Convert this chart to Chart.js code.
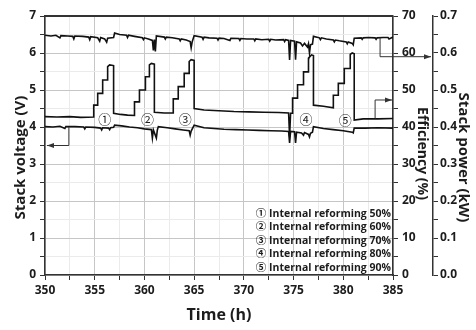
<!DOCTYPE html>
<html>
<head>
<meta charset="utf-8">
<script src="https://cdn.jsdelivr.net/npm/chart.js@4.4.0/dist/chart.umd.min.js"></script>
<style>
  html, body { margin: 0; padding: 0; background: #fff; }
  #wrap { width: 476px; height: 330px; }
</style>
</head>
<body>
<div id="wrap"><canvas id="myChart" width="476" height="330"></canvas></div>
<script>
// stack power (kW), top trace
var powerTime = [350.0, 350.6, 351.1, 351.5, 351.6, 352.3, 352.8, 352.9, 353.0, 353.8, 354.4, 354.5, 354.6, 355.3, 355.5, 355.6, 356.0, 356.2, 356.3, 356.9,
  357.0, 357.5, 358.2, 358.3, 358.4, 359.0, 359.8, 359.9, 360.0, 360.4, 360.8, 360.9, 361.0, 361.1, 361.2, 362.0, 362.1, 362.2, 362.8, 363.5, 363.6, 363.7, 364.2, 364.6, 364.7, 364.8,
  365.0, 365.8, 365.9, 366.0, 366.5, 367.3, 367.4, 367.5, 368.0, 368.6, 368.7, 369.5, 369.6, 369.7, 370.3, 371.0, 371.1, 371.2, 371.8, 372.5, 372.6, 372.7, 373.2, 374.0, 374.1, 374.2, 374.5, 374.6, 374.7,
  375.1, 375.2, 375.3, 375.7, 375.9, 376.1, 376.4, 376.5, 376.6, 376.7, 376.9,
  377.0, 377.6, 377.7, 377.8, 378.3, 379.0, 379.1, 379.2, 379.6, 380.3, 380.4, 380.5, 380.9, 381.0, 381.1, 381.8, 381.9, 382.0, 382.5, 383.2, 383.3, 383.4, 384.0, 384.5, 384.6, 385.0];
var powerKW = [0.648, 0.646, 0.648, 0.641, 0.647, 0.646, 0.645, 0.638, 0.646, 0.645, 0.643, 0.636, 0.644, 0.641, 0.632, 0.642, 0.638, 0.629, 0.640, 0.642,
  0.654, 0.650, 0.648, 0.642, 0.648, 0.645, 0.641, 0.636, 0.641, 0.638, 0.634, 0.607, 0.636, 0.604, 0.646, 0.643, 0.638, 0.643, 0.641, 0.638, 0.633, 0.638, 0.635, 0.631, 0.614, 0.630,
  0.647, 0.643, 0.637, 0.643, 0.641, 0.640, 0.635, 0.640, 0.639, 0.634, 0.640, 0.639, 0.634, 0.639, 0.638, 0.638, 0.633, 0.638, 0.636, 0.637, 0.632, 0.637, 0.635, 0.636, 0.631, 0.636, 0.634, 0.581, 0.634,
  0.632, 0.582, 0.630, 0.627, 0.619, 0.626, 0.616, 0.625, 0.600, 0.622, 0.624,
  0.645, 0.641, 0.636, 0.641, 0.638, 0.635, 0.630, 0.635, 0.633, 0.630, 0.625, 0.630, 0.626, 0.622, 0.640, 0.641, 0.637, 0.641, 0.642, 0.641, 0.637, 0.641, 0.642, 0.642, 0.638, 0.643];

// efficiency (%), stepped trace
var effTime = [350.0, 351.2, 352.5, 353.6, 354.9, 354.9, 355.3, 355.3, 355.8, 355.8, 356.3, 356.3, 356.5, 356.9, 356.9, 357.6, 358.3, 359.0,
  359.0, 359.5, 359.5, 360.1, 360.1, 360.5, 360.5, 360.7, 361.0, 361.0, 362.0, 362.9,
  362.9, 363.4, 363.4, 364.0, 364.0, 364.5, 364.5, 364.7, 365.0, 365.0, 366.0, 367.5, 369.0, 370.5, 372.0, 373.5, 374.5, 374.6, 374.7, 374.9,
  374.9, 375.4, 375.4, 376.0, 376.0, 376.5, 376.5, 376.8, 377.0, 377.0, 378.0, 379.0,
  379.0, 379.5, 379.5, 380.1, 380.1, 380.7, 380.7, 380.9, 381.1, 381.1, 382.0, 383.5, 385.0];
var effPct = [42.8, 42.7, 42.8, 42.6, 42.7, 45.9, 45.9, 49.1, 49.1, 52.7, 52.7, 56.3, 56.8, 56.6, 43.7, 43.4, 43.2, 43.1,
  46.8, 46.8, 50.0, 50.0, 53.6, 53.6, 56.8, 57.2, 57.0, 44.0, 43.8, 43.8,
  47.6, 47.6, 50.9, 50.9, 54.5, 54.5, 57.7, 58.2, 58.0, 45.0, 44.6, 44.4, 44.2, 44.1, 44.0, 43.9, 43.8, 37.5, 43.7, 43.7,
  47.8, 47.8, 51.4, 51.4, 54.9, 54.9, 58.6, 59.5, 59.3, 45.9, 45.6, 45.2,
  48.6, 48.6, 51.8, 51.8, 55.8, 55.8, 59.6, 60.0, 59.8, 41.9, 42.2, 42.2, 42.3];

// stack voltage (V), bottom trace
var voltTime = [350.0, 350.8, 351.5, 352.0, 352.1, 353.0, 353.9, 354.0, 354.1, 355.0, 355.6, 355.7, 355.8, 356.4, 356.5, 356.6, 356.9,
  357.0, 357.7, 358.5, 359.3, 360.0, 360.7, 360.8, 360.9, 361.2, 361.3, 361.4, 362.3, 363.1, 363.9, 364.5, 364.6, 364.7,
  365.0, 366.0, 367.0, 368.0, 369.2, 370.4, 371.5, 372.7, 373.8, 374.5, 374.6, 374.7, 375.1, 375.2, 375.3, 375.8, 376.0, 376.1,
  376.5, 376.6, 376.7, 376.9, 377.0, 378.0, 379.0, 380.0, 380.9, 381.0, 381.1, 382.2, 383.5, 385.0];
var voltV = [4.01, 4.00, 4.02, 3.96, 4.01, 4.01, 4.00, 3.95, 4.00, 3.99, 3.97, 3.92, 3.98, 3.97, 3.93, 3.98, 3.99,
  4.05, 4.03, 4.00, 3.98, 3.95, 3.93, 3.70, 3.92, 3.70, 3.92, 4.01, 3.98, 3.95, 3.92, 3.90, 3.78, 3.89,
  4.05, 3.98, 3.96, 3.94, 3.93, 3.92, 3.91, 3.90, 3.89, 3.88, 3.57, 3.88, 3.87, 3.57, 3.86, 3.84, 3.78, 3.85,
  3.80, 3.73, 3.83, 3.86, 4.01, 3.96, 3.93, 3.90, 3.86, 3.84, 3.97, 3.97, 3.98, 3.97];

var stepMarks = ["①", "②", "③", "④", "⑤"];
var stepMarkTime = [356.0, 360.3, 364.1, 376.25, 380.2];
var stepMarkVolt = [4.19, 4.19, 4.17, 4.19, 4.16];
var legendLines = [
  "① Internal reforming 50%",
  "② Internal reforming 60%",
  "③ Internal reforming 70%",
  "④ Internal reforming 80%",
  "⑤ Internal reforming 90%"
];

var FONT = "'Open Sans', 'Noto Sans CJK KR', sans-serif";
var INK = '#1c1c1c';

function pairs(xs, ys) {
  return xs.map(function (x, i) { return { x: x, y: ys[i] }; });
}

function onStep(v, step) {
  var r = v / step;
  return Math.abs(r - Math.round(r)) < 1e-6;
}

function gridColor(step) {
  return function (c) {
    if (!c.tick) return '#ececec';
    return onStep(c.tick.value, step) ? '#c6c6c6' : '#ebebeb';
  };
}

function drawArrow(ctx, pts) {
  ctx.beginPath();
  ctx.moveTo(pts[0][0], pts[0][1]);
  for (var i = 1; i < pts.length; i++) ctx.lineTo(pts[i][0], pts[i][1]);
  ctx.stroke();
  var p = pts[pts.length - 1], q = pts[pts.length - 2];
  var ang = Math.atan2(p[1] - q[1], p[0] - q[0]);
  ctx.save();
  ctx.translate(p[0], p[1]);
  ctx.rotate(ang);
  ctx.beginPath();
  ctx.moveTo(0, 0);
  ctx.lineTo(-7, -2.5);
  ctx.lineTo(-7, 2.5);
  ctx.closePath();
  ctx.fill();
  ctx.restore();
}

var extras = {
  id: 'extras',
  afterDatasetsDraw: function (chart) {
    var ctx = chart.ctx, a = chart.chartArea, s = chart.scales;
    ctx.save();

    // heavy top frame
    ctx.strokeStyle = '#333';
    ctx.lineWidth = 2;
    ctx.beginPath();
    ctx.moveTo(a.left, a.top);
    ctx.lineTo(a.right, a.top);
    ctx.stroke();

    // arrows pointing each trace to its axis
    ctx.strokeStyle = '#333';
    ctx.fillStyle = '#333';
    ctx.lineWidth = 1;
    var vx = s.x.getPixelForValue(352.4);
    drawArrow(ctx, [[vx, s.y.getPixelForValue(4.0)], [vx, s.y.getPixelForValue(3.5)], [a.left + 2, s.y.getPixelForValue(3.5)]]);
    var ex = s.x.getPixelForValue(383.2);
    drawArrow(ctx, [[ex, s.yEff.getPixelForValue(42.3)], [ex, s.yEff.getPixelForValue(47.3)], [a.right - 1, s.yEff.getPixelForValue(47.3)]]);
    var px = s.x.getPixelForValue(383.7);
    drawArrow(ctx, [[px, s.yPow.getPixelForValue(0.642)], [px, s.yPow.getPixelForValue(0.59)], [s.yPow.left - 2, s.yPow.getPixelForValue(0.59)]]);

    // circled step numbers
    ctx.fillStyle = INK;
    ctx.font = '13px ' + FONT;
    ctx.textAlign = 'center';
    ctx.textBaseline = 'middle';
    stepMarks.forEach(function (m, i) {
      ctx.fillText(m, s.x.getPixelForValue(stepMarkTime[i]), s.y.getPixelForValue(stepMarkVolt[i]));
    });

    // legend text block
    ctx.font = 'bold 10.5px ' + FONT;
    ctx.textAlign = 'right';
    legendLines.forEach(function (t, i) {
      ctx.fillText(t, a.right - 2, a.bottom - 7 - 13.5 * (legendLines.length - 1 - i));
    });

    // vertical axis titles
    var mid = (a.top + a.bottom) / 2;
    ctx.textAlign = 'center';
    ctx.font = 'bold 15px ' + FONT;
    ctx.save();
    ctx.translate(s.y.left + 21, mid + 12);
    ctx.rotate(-Math.PI / 2);
    ctx.fillText('Stack voltage (V)', 0, 0);
    ctx.restore();

    ctx.save();
    ctx.translate(s.yPow.left + 30, mid + 12);
    ctx.rotate(Math.PI / 2);
    ctx.fillText('Stack power (kW)', 0, 0);
    ctx.restore();

    ctx.font = 'bold 14px ' + FONT;
    ctx.save();
    ctx.translate(s.yEff.left + 29, mid + 8);
    ctx.rotate(Math.PI / 2);
    ctx.fillText('Efficiency (%)', 0, 0);
    ctx.restore();

    ctx.restore();
  }
};

window.onload = function () {
  Chart.defaults.font.family = FONT;
  Chart.defaults.color = INK;
  var tickFont = { size: 12, weight: 'bold' };
  var line = function (data, axis) {
    return {
      data: data,
      yAxisID: axis,
      showLine: true,
      borderColor: '#111',
      borderWidth: 1.6,
      pointRadius: 0,
      tension: 0
    };
  };
  var ctx = document.getElementById('myChart').getContext('2d');
  new Chart(ctx, {
    type: 'scatter',
    data: {
      datasets: [
        line(pairs(powerTime, powerKW), 'yPow'),
        line(pairs(effTime, effPct), 'yEff'),
        line(pairs(voltTime, voltV), 'y')
      ]
    },
    options: {
      responsive: false,
      animation: false,
      layout: { padding: { top: 16, left: 0, right: 0, bottom: 0 } },
      plugins: { legend: { display: false }, tooltip: { enabled: false } },
      scales: {
        x: {
          type: 'linear', min: 350, max: 385,
          afterFit: function (sc) { sc.height = 55; },
          ticks: {
            stepSize: 2.5, autoSkip: false, maxRotation: 0, padding: 3, font: tickFont,
            callback: function (v) { return onStep(v, 5) ? v : ''; }
          },
          grid: { color: gridColor(5), tickColor: '#333', tickLength: 5 },
          border: { color: '#333', width: 1.5 },
          title: { display: true, text: 'Time (h)', font: { size: 16, weight: 'bold' }, padding: { top: 0, bottom: 5 } }
        },
        y: {
          position: 'left', min: 0, max: 7,
          afterFit: function (sc) { sc.width = 45; },
          ticks: {
            stepSize: 0.5, autoSkip: false, padding: 4, font: tickFont,
            callback: function (v) { return onStep(v, 1) ? v : ''; }
          },
          grid: { color: gridColor(1), tickColor: '#333', tickLength: 5 },
          border: { color: '#333', width: 1.5 }
        },
        yEff: {
          position: 'right', min: 0, max: 70,
          afterFit: function (sc) { sc.width = 40; },
          ticks: {
            stepSize: 5, autoSkip: false, padding: 4, font: tickFont,
            callback: function (v) { return onStep(v, 10) ? v : ''; }
          },
          grid: { drawOnChartArea: false, tickColor: '#333', tickLength: 5 },
          border: { color: '#333', width: 1.5 }
        },
        yPow: {
          position: 'right', min: 0, max: 0.7,
          afterFit: function (sc) { sc.width = 43; },
          ticks: {
            stepSize: 0.05, autoSkip: false, padding: 2, font: tickFont,
            callback: function (v) { return onStep(v, 0.1) ? v.toFixed(1) : ''; }
          },
          grid: { drawOnChartArea: false, tickColor: '#333', tickLength: 5 },
          border: { color: '#333', width: 1.5 }
        }
      }
    },
    plugins: [extras]
  });
};
</script>
</body>
</html>
